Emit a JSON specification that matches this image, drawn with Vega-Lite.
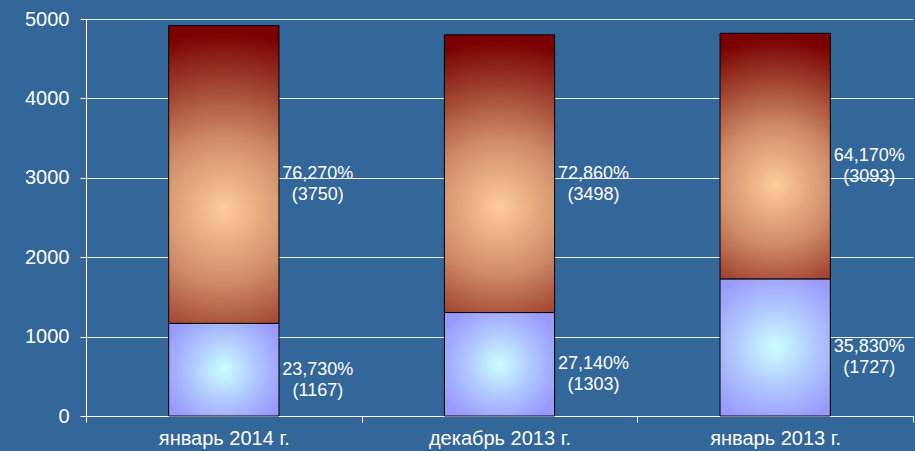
{
  "$schema": "https://vega.github.io/schema/vega-lite/v6.json",
  "width": 827,
  "height": 397,
  "autosize": "none",
  "padding": {"left": 86, "top": 19, "right": 2, "bottom": 35},
  "background": "#336699",
  "config": {
    "view": {"stroke": null},
    "font": "Liberation Sans"
  },
  "data": {
    "values": [
      {"month": "январь 2014 г.", "segment": "lower", "value": 1167, "label": "23,730%\n(1167)"},
      {"month": "январь 2014 г.", "segment": "upper", "value": 3750, "label": "76,270%\n(3750)"},
      {"month": "декабрь 2013 г.", "segment": "lower", "value": 1303, "label": "27,140%\n(1303)"},
      {"month": "декабрь 2013 г.", "segment": "upper", "value": 3498, "label": "72,860%\n(3498)"},
      {"month": "январь 2013 г.", "segment": "lower", "value": 1727, "label": "35,830%\n(1727)"},
      {"month": "январь 2013 г.", "segment": "upper", "value": 3093, "label": "64,170%\n(3093)"}
    ]
  },
  "encoding": {
    "x": {
      "field": "month",
      "type": "nominal",
      "sort": null,
      "scale": {"paddingInner": 0, "paddingOuter": 0},
      "axis": {
        "title": null,
        "labelAngle": 0,
        "labelColor": "white",
        "labelFontSize": 20,
        "labelPadding": 6,
        "domainColor": "white",
        "tickColor": "white",
        "tickBand": "extent",
        "tickSize": 6,
        "grid": false
      }
    }
  },
  "layer": [
    {
      "transform": [
        {"stack": "value", "groupby": ["month"], "sort": [{"field": "segment", "order": "ascending"}], "as": ["v0", "v1"]},
        {"filter": "datum.segment === 'lower'"}
      ],
      "mark": {
        "type": "bar",
        "width": {"band": 0.4},
        "stroke": "#000000",
        "strokeWidth": 1,
        "color": {
          "gradient": "radial",
          "x1": 0.5, "y1": 0.5, "r1": 0,
          "x2": 0.5, "y2": 0.5, "r2": 0.58,
          "stops": [
            {"offset": 0, "color": "#ccffff"},
            {"offset": 0.5, "color": "#b0c8ff"},
            {"offset": 1, "color": "#9999ff"}
          ]
        }
      },
      "encoding": {
        "y": {
          "field": "v0",
          "type": "quantitative",
          "scale": {"domain": [0, 5000]},
          "axis": {
            "title": null,
            "values": [0, 1000, 2000, 3000, 4000, 5000],
            "format": "d",
            "labelColor": "white",
            "labelFontSize": 20,
            "labelPadding": 11,
            "domainColor": "white",
            "tickColor": "white",
            "tickSize": 6,
            "gridColor": "white",
            "gridOpacity": 0.9
          }
        },
        "y2": {"field": "v1"}
      }
    },
    {
      "transform": [
        {"stack": "value", "groupby": ["month"], "sort": [{"field": "segment", "order": "ascending"}], "as": ["v0", "v1"]},
        {"filter": "datum.segment === 'upper'"}
      ],
      "mark": {
        "type": "bar",
        "width": {"band": 0.4},
        "stroke": "#000000",
        "strokeWidth": 1,
        "color": {
          "gradient": "radial",
          "x1": 0.5, "y1": 0.62, "r1": 0,
          "x2": 0.5, "y2": 0.62, "r2": 0.6,
          "stops": [
            {"offset": 0, "color": "#ffcc99"},
            {"offset": 0.4, "color": "#d08c68"},
            {"offset": 0.75, "color": "#9a3a2a"},
            {"offset": 1, "color": "#7a0000"}
          ]
        }
      },
      "encoding": {
        "y": {"field": "v0", "type": "quantitative"},
        "y2": {"field": "v1"}
      }
    },
    {
      "mark": {
        "type": "text",
        "color": "white",
        "fontSize": 18,
        "align": "center",
        "baseline": "middle",
        "lineBreak": "\n",
        "lineHeight": 21,
        "xOffset": 94
      },
      "encoding": {
        "y": {"field": "value", "type": "quantitative", "stack": "zero", "bandPosition": 0.5},
        "order": {"field": "segment", "sort": "ascending"},
        "text": {"field": "label"}
      }
    }
  ]
}
